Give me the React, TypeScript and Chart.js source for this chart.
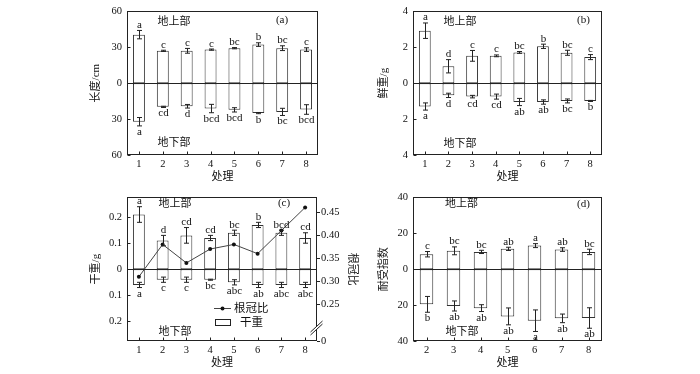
import React, { useEffect, useRef } from "react";
import { Chart, registerables } from "chart.js";
Chart.register(...registerables);

const SERIF = '"Liberation Serif", "Times New Roman", serif';
const CJK = '"Liberation Serif", "Noto Sans CJK SC", serif';

// ---- data ----
const treatments = ["1", "2", "3", "4", "5", "6", "7", "8"];
const treatmentsD = ["2", "3", "4", "5", "6", "7", "8"];

// (a) length, cm
const lenUp = [40.5, 27, 27, 28, 29.2, 32.2, 29.2, 28];
const lenUpErr = [3.5, 0.5, 2, 0.5, 0.5, 1.5, 2, 1.5];
const lenUpLetters = ["a", "c", "c", "c", "bc", "b", "bc", "c"];
const lenDown = [32.2, 19.8, 19.3, 21.2, 22.3, 25, 24, 22];
const lenDownErr = [3.5, 0.5, 1.5, 3.5, 1.8, 0.5, 3, 4];
const lenDownLetters = ["a", "cd", "d", "bcd", "bcd", "b", "bc", "bcd"];
const lenTicks = [-60, -30, 0, 30, 60];

// (b) fresh weight, g
const freshUp = [2.92, 0.94, 1.52, 1.52, 1.71, 2.05, 1.69, 1.45];
const freshUpErr = [0.43, 0.37, 0.3, 0.05, 0.05, 0.12, 0.14, 0.14];
const freshUpLetters = ["a", "d", "c", "c", "bc", "b", "bc", "c"];
const freshDown = [1.3, 0.68, 0.75, 0.75, 1.05, 1.05, 0.99, 0.99];
const freshDownErr = [0.2, 0.12, 0.07, 0.14, 0.2, 0.12, 0.11, 0.03];
const freshDownLetters = ["a", "d", "cd", "cd", "ab", "ab", "bc", "b"];
const freshTicks = [-4, -2, 0, 2, 4];

// (c) dry weight, g and root/shoot ratio
const dryUp = [0.21, 0.11, 0.13, 0.12, 0.14, 0.17, 0.14, 0.12];
const dryUpErr = [0.03, 0.02, 0.03, 0.01, 0.01, 0.01, 0.01, 0.02];
const dryUpLetters = ["a", "d", "cd", "cd", "bc", "b", "bcd", "cd"];
const dryDown = [0.06, 0.04, 0.04, 0.04, 0.05, 0.06, 0.06, 0.06];
const dryDownErr = [0.01, 0.01, 0.01, 0.002, 0.01, 0.01, 0.01, 0.01];
const dryDownLetters = ["a", "c", "c", "bc", "abc", "ab", "abc", "abc"];
const dryTicks = [-0.2, -0.1, 0, 0.1, 0.2];
const rootShoot = [0.31, 0.38, 0.34, 0.37, 0.38, 0.36, 0.41, 0.46];
const ratioTicks = [0, 0.25, 0.3, 0.35, 0.4, 0.45];
const ratioBreakMin = 0.171;
const ratioMax = 0.482;

// (d) tolerance index
const tolUp = [8.3, 10.2, 9.6, 11.3, 13.1, 10.9, 9.6];
const tolUpErr = [1.5, 2.2, 0.9, 0.9, 1.1, 1.0, 1.5];
const tolUpLetters = ["c", "bc", "bc", "ab", "a", "ab", "bc"];
const tolDown = [19.6, 20.5, 21.7, 26.3, 28.7, 27.4, 27.2];
const tolDownErr = [4.4, 2.8, 1.9, 4.7, 6, 2.4, 5.7];
const tolDownLetters = ["b", "ab", "ab", "ab", "a", "ab", "ab"];
const tolTicks = [-40, -20, 0, 20, 40];

type Note = { text: string; x: number; y: number };
type PanelSpec = {
  left: number; top: number; width: number; height: number;
  pad: { top: number; right: number; left: number; bottom: number };
  yW: number; xH: number; y1W?: number;
  labels: string[];
  up: number[]; upErr: number[]; upLet: string[];
  down: number[]; downErr: number[]; downLet: string[];
  yMin: number; yMax: number; yTicks: number[];
  yTitle: string;
  notes: Note[];
  ratio?: number[];
};

const fmt = (v: number) => String(Math.round(Math.abs(v) * 1000) / 1000);

const panels: PanelSpec[] = [
  {
    left: 86, top: 0, width: 244, height: 188,
    pad: { top: 9, right: 12, left: 0, bottom: 0 }, yW: 41, xH: 33,
    labels: treatments, up: lenUp, upErr: lenUpErr, upLet: lenUpLetters,
    down: lenDown, downErr: lenDownErr, downLet: lenDownLetters,
    yMin: -60, yMax: 60, yTicks: lenTicks, yTitle: "长度/cm",
    notes: [
      { text: "地上部", x: 174, y: 22 },
      { text: "地下部", x: 174, y: 143.5 },
      { text: "(a)", x: 282, y: 20 },
    ],
  },
  {
    left: 374, top: 0, width: 240, height: 188,
    pad: { top: 9, right: 12, left: 0, bottom: 0 }, yW: 39, xH: 33,
    labels: treatments, up: freshUp, upErr: freshUpErr, upLet: freshUpLetters,
    down: freshDown, downErr: freshDownErr, downLet: freshDownLetters,
    yMin: -4, yMax: 4, yTicks: freshTicks, yTitle: "鲜重/g",
    notes: [
      { text: "地上部", x: 460, y: 22 },
      { text: "地下部", x: 460, y: 144 },
      { text: "(b)", x: 583.5, y: 20 },
    ],
  },
  {
    left: 86, top: 186, width: 276, height: 188,
    pad: { top: 8, right: 0, left: 0, bottom: 0 }, yW: 41, xH: 33, y1W: 45,
    labels: treatments, up: dryUp, upErr: dryUpErr, upLet: dryUpLetters,
    down: dryDown, downErr: dryDownErr, downLet: dryDownLetters,
    yMin: -0.275, yMax: 0.276, yTicks: dryTicks, yTitle: "干重/g",
    notes: [
      { text: "地上部", x: 175, y: 204 },
      { text: "地下部", x: 175, y: 332 },
      { text: "(c)", x: 284, y: 203 },
    ],
    ratio: rootShoot,
  },
  {
    left: 374, top: 186, width: 240, height: 188,
    pad: { top: 9, right: 12, left: 0, bottom: 0 }, yW: 39, xH: 33,
    labels: treatmentsD, up: tolUp, upErr: tolUpErr, upLet: tolUpLetters,
    down: tolDown, downErr: tolDownErr, downLet: tolDownLetters,
    yMin: -40, yMax: 40, yTicks: tolTicks, yTitle: "耐受指数",
    notes: [
      { text: "地上部", x: 461.5, y: 204 },
      { text: "地下部", x: 462, y: 332 },
      { text: "(d)", x: 583.5, y: 204 },
    ],
  },
];

const INK = "#222";

function makePlugin(spec: PanelSpec) {
  return {
    id: "decor",
    afterDatasetsDraw(chart: any) {
      const { ctx, chartArea: a } = chart;
      const xs = chart.scales.x;
      const ys = chart.scales.y;
      ctx.save();
      // zero line
      const y0 = Math.round(ys.getPixelForValue(0)) + 0.5;
      ctx.strokeStyle = INK;
      ctx.lineWidth = 1;
      ctx.beginPath();
      ctx.moveTo(a.left, y0);
      ctx.lineTo(a.right, y0);
      ctx.stroke();
      // error bars + letters
      ctx.font = `11px ${SERIF}`;
      ctx.fillStyle = "#111";
      ctx.textAlign = "center";
      ctx.textBaseline = "alphabetic";
      const cap = 2.5;
      const bar = (x: number, y1: number, y2: number) => {
        ctx.beginPath();
        ctx.moveTo(x, y1);
        ctx.lineTo(x, y2);
        ctx.moveTo(x - cap, y1);
        ctx.lineTo(x + cap, y1);
        ctx.moveTo(x - cap, y2);
        ctx.lineTo(x + cap, y2);
        ctx.stroke();
      };
      spec.labels.forEach((_, i) => {
        const x = Math.round(xs.getPixelForValue(i)) + 0.5;
        const uT = ys.getPixelForValue(spec.up[i] + spec.upErr[i]);
        const uB = ys.getPixelForValue(spec.up[i] - spec.upErr[i]);
        bar(x, uT, uB);
        ctx.fillText(spec.upLet[i], x, uT - 2.5);
        const dT = ys.getPixelForValue(-(spec.down[i] - spec.downErr[i]));
        const dB = ys.getPixelForValue(-(spec.down[i] + spec.downErr[i]));
        bar(x, dT, dB);
        ctx.fillText(spec.downLet[i], x, dB + 9);
      });
      ctx.restore();
    },
    afterDraw(chart: any) {
      const { ctx, chartArea: a } = chart;
      const xs = chart.scales.x;
      const ys = chart.scales.y;
      ctx.save();
      ctx.strokeStyle = INK;
      ctx.lineWidth = 1;
      const L = Math.round(a.left) + 0.5;
      const R = Math.round(a.right) - 0.5;
      const T = Math.round(a.top) + 0.5;
      const B = Math.round(a.bottom) - 0.5;
      ctx.strokeRect(L, T, R - L, B - T);
      // inward ticks
      ctx.beginPath();
      ys.ticks.forEach((t: any) => {
        const y = Math.round(ys.getPixelForValue(t.value)) + 0.5;
        ctx.moveTo(L, y);
        ctx.lineTo(L + 3, y);
      });
      spec.labels.forEach((_, i) => {
        const x = Math.round(xs.getPixelForValue(i)) + 0.5;
        ctx.moveTo(x, B);
        ctx.lineTo(x, B - 3);
      });
      ctx.stroke();
      // notes
      ctx.fillStyle = "#111";
      ctx.textAlign = "center";
      ctx.textBaseline = "middle";
      spec.notes.forEach((n) => {
        ctx.font = n.text.startsWith("(") ? `11px ${SERIF}` : `11px ${CJK}`;
        ctx.fillText(n.text, n.x - spec.left, n.y - spec.top);
      });
      if (spec.ratio) {
        const ox = spec.left, oy = spec.top;
        // legend: line with dot
        ctx.beginPath();
        ctx.strokeStyle = "#444";
        ctx.moveTo(214 - ox, 308.5 - oy);
        ctx.lineTo(231 - ox, 308.5 - oy);
        ctx.stroke();
        ctx.fillStyle = "#111";
        ctx.beginPath();
        ctx.arc(222.5 - ox, 308.5 - oy, 2, 0, Math.PI * 2);
        ctx.fill();
        ctx.strokeStyle = INK;
        ctx.strokeRect(215.5 - ox, 319.5 - oy, 15, 6);
        ctx.textAlign = "left";
        ctx.font = `11.5px ${CJK}`;
        ctx.fillText("根冠比", 234 - ox, 308.5 - oy);
        ctx.fillText("干重", 240 - ox, 323 - oy);
        // axis break mark
        const bx = R;
        const by = 328 - oy;
        ctx.fillStyle = "#fff";
        ctx.beginPath();
        ctx.moveTo(bx - 6, by + 4);
        ctx.lineTo(bx + 6, by - 7);
        ctx.lineTo(bx + 6, by - 4);
        ctx.lineTo(bx - 6, by + 7);
        ctx.closePath();
        ctx.fill();
        ctx.strokeStyle = INK;
        ctx.beginPath();
        ctx.moveTo(bx - 6, by + 4);
        ctx.lineTo(bx + 6, by - 7);
        ctx.moveTo(bx - 6, by + 7);
        ctx.lineTo(bx + 6, by - 4);
        ctx.stroke();
      }
      ctx.restore();
    },
  };
}

function Panel({ spec }: { spec: PanelSpec }) {
  const ref = useRef<HTMLCanvasElement>(null);
  useEffect(() => {
    const canvas = ref.current!;
    const barBase = {
      type: "bar",
      backgroundColor: "#fff",
      borderColor: "#333",
      borderWidth: 1,
      borderSkipped: false,
      grouped: false,
      barPercentage: 0.5,
      categoryPercentage: 1,
      order: 2,
      yAxisID: "y",
    };
    const datasets: any[] = [
      { ...barBase, data: spec.up },
      { ...barBase, data: spec.down.map((v) => -v) },
    ];
    const titleFont = { family: CJK, size: 11 };
    const tickFont = { family: SERIF, size: 10.5 };
    const scales: any = {
      x: {
        type: "category",
        offset: true,
        grid: { display: false, drawTicks: false },
        border: { display: false },
        ticks: { padding: 3, color: "#111", font: tickFont, maxRotation: 0, autoSkip: false },
        title: { display: true, text: "处理", font: titleFont, color: "#111", padding: { top: 4, bottom: 4 } },
        afterFit: (s: any) => { s.height = spec.xH; },
      },
      y: {
        type: "linear",
        position: "left",
        min: spec.yMin,
        max: spec.yMax,
        afterBuildTicks: (s: any) => { s.ticks = spec.yTicks.map((v) => ({ value: v })); },
        grid: { display: false, drawTicks: false },
        border: { display: false },
        ticks: { padding: 5, color: "#111", font: tickFont, callback: (v: any) => fmt(Number(v)) },
        title: { display: true, text: spec.yTitle, font: titleFont, color: "#111", padding: { top: 4, bottom: 4 } },
        afterFit: (s: any) => { s.width = spec.yW; },
      },
    };
    if (spec.ratio) {
      datasets.push({
        type: "line",
        data: spec.ratio,
        yAxisID: "y1",
        borderColor: "#444",
        borderWidth: 1,
        pointRadius: 2,
        pointBackgroundColor: "#111",
        pointBorderColor: "#111",
        pointBorderWidth: 0,
        order: 0,
      });
      scales.y1 = {
        type: "linear",
        position: "right",
        min: ratioBreakMin,
        max: ratioMax,
        afterBuildTicks: (s: any) => {
          s.ticks = ratioTicks.map((v) => ({ value: v === 0 ? ratioBreakMin : v }));
        },
        grid: { display: true, drawOnChartArea: false, drawTicks: true, tickLength: 3, tickColor: INK, color: INK },
        border: { display: false },
        ticks: {
          padding: 1,
          color: "#111",
          font: tickFont,
          callback: (v: any) => (Math.abs(Number(v) - ratioBreakMin) < 1e-6 ? "0" : Number(v).toFixed(2)),
        },
        title: { display: true, text: "根冠比", font: titleFont, color: "#111", padding: { top: 4, bottom: 4 } },
        afterFit: (s: any) => { s.width = spec.y1W; },
      };
    }
    const chart = new Chart(canvas, {
      type: "bar",
      data: { labels: spec.labels, datasets },
      options: {
        animation: false,
        responsive: false,
        devicePixelRatio: 1,
        layout: { padding: spec.pad },
        plugins: { legend: { display: false }, tooltip: { enabled: false } },
        scales,
      } as any,
      plugins: [makePlugin(spec) as any],
    } as any);
    return () => chart.destroy();
  }, [spec]);
  return (
    <canvas
      ref={ref}
      width={spec.width}
      height={spec.height}
      style={{ position: "absolute", left: spec.left, top: spec.top, width: spec.width, height: spec.height }}
    />
  );
}

export default function App() {
  return (
    <div style={{ position: "fixed", left: 0, top: 0, width: 700, height: 374, background: "#fff", overflow: "hidden" }}>
      {panels.map((p, i) => (
        <Panel key={i} spec={p} />
      ))}
    </div>
  );
}
